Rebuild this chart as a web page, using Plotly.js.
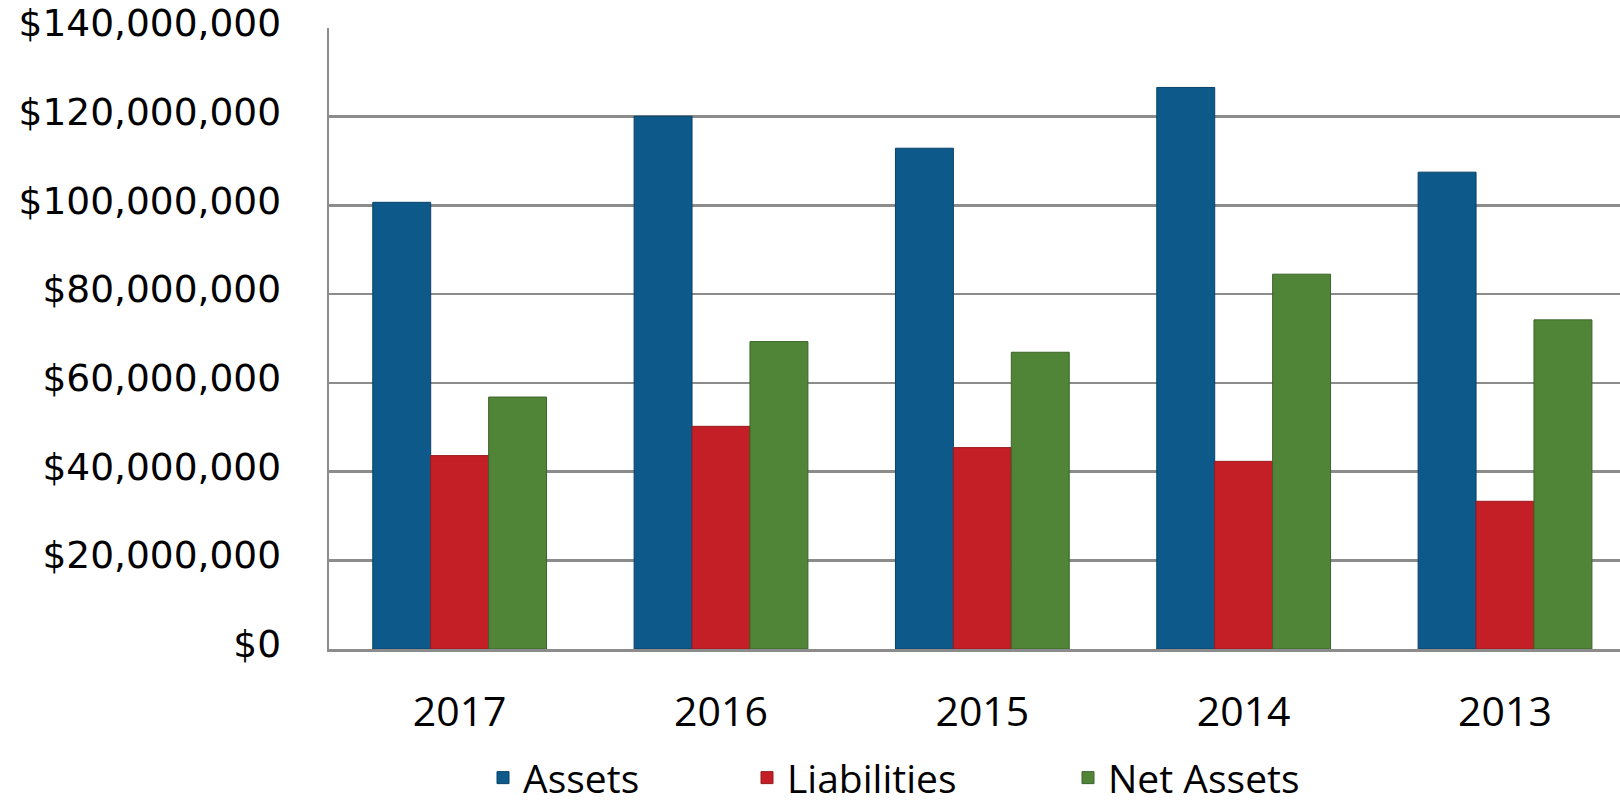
<!DOCTYPE html>
<html>
<head>
<meta charset="utf-8">
<script src="https://cdn.plot.ly/plotly-3.0.1.min.js"></script>
<style>
  html, body { margin: 0; padding: 0; background: #ffffff; }
  #chart { width: 1620px; height: 806px; }
</style>
</head>
<body>
<div id="chart"></div>
<script>
const years = ['2017', '2016', '2015', '2014', '2013'];
const assets = [100.7e6, 120.1e6, 112.9e6, 126.6e6, 107.5e6];
const liabilities = [43.6e6, 50.2e6, 45.4e6, 42.3e6, 33.3e6];
const netAssets = [56.8e6, 69.3e6, 66.9e6, 84.5e6, 74.2e6];
const seriesNames = ['Assets', 'Liabilities', 'Net Assets'];
const yTicks = [0, 20e6, 40e6, 60e6, 80e6, 100e6, 120e6, 140e6];
const yTickText = yTicks.map(v => '$' + v.toLocaleString('en-US'));

const fills = ['#0d5a8a', '#c41f26', '#508538'];
const edges = ['#08416a', '#971a1e', '#3a6429'];

const traces = [assets, liabilities, netAssets].map((vals, i) => ({
  type: 'bar',
  name: seriesNames[i],
  x: years,
  y: vals,
  legend: i === 0 ? 'legend' : 'legend' + (i + 1),
  marker: { color: fills[i], line: { color: edges[i], width: 1 } },
  hoverinfo: 'skip'
}));

const legendBase = {
  orientation: 'h',
  xref: 'container', yref: 'container',
  xanchor: 'left', yanchor: 'middle',
  y: 0.035,
  font: { family: 'Open Sans, sans-serif', size: 39, color: '#000000' },
  bgcolor: 'rgba(0,0,0,0)',
  borderwidth: 0
};

const layout = {
  width: 1620,
  height: 806,
  margin: { l: 329, r: 0, t: 28, b: 157, pad: 0 },
  paper_bgcolor: '#ffffff',
  plot_bgcolor: '#ffffff',
  barmode: 'group',
  bargap: 0.335,
  bargroupgap: 0,
  showlegend: true,
  legend: Object.assign({}, legendBase, { x: 483 / 1620 }),
  legend2: Object.assign({}, legendBase, { x: 747 / 1620 }),
  legend3: Object.assign({}, legendBase, { x: 1068 / 1620 }),
  xaxis: {
    type: 'category',
    range: [-0.5, 4.44],
    showgrid: false,
    showline: true,
    linecolor: '#8c8c8c',
    linewidth: 2.5,
    ticks: '',
    ticklabelstandoff: 25,
    tickfont: { family: 'Open Sans, sans-serif', size: 41, color: '#000000' },
    fixedrange: true
  },
  yaxis: {
    range: [0, 140e6],
    tickvals: yTicks,
    ticktext: yTickText,
    showgrid: true,
    gridcolor: '#8c8c8c',
    gridwidth: 2.5,
    showline: true,
    linecolor: '#8c8c8c',
    linewidth: 2.5,
    zeroline: false,
    ticks: '',
    ticklabelstandoff: 38,
    ticklabelshift: -5,
    tickfont: { family: 'DejaVu Sans, sans-serif', size: 37.5, color: '#000000' },
    fixedrange: true
  }
};

Plotly.newPlot('chart', traces, layout, { displayModeBar: false, staticPlot: true });
</script>
</body>
</html>
